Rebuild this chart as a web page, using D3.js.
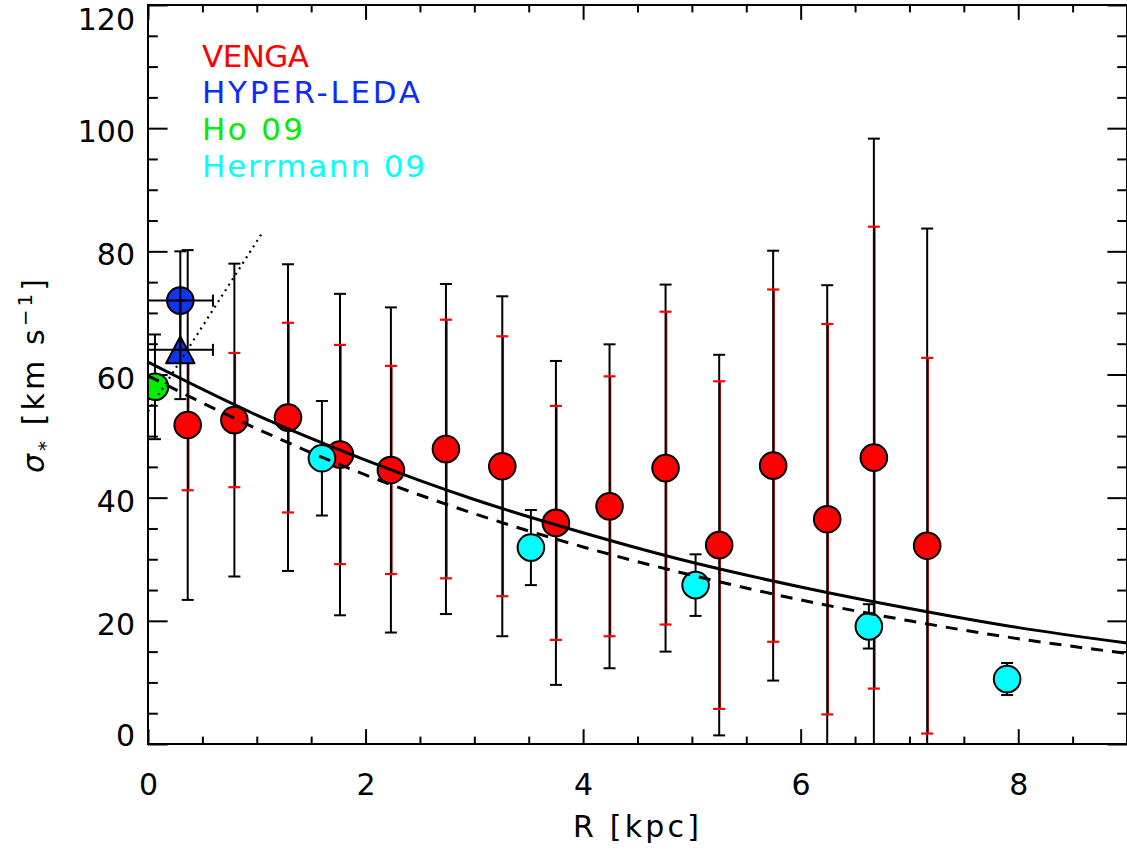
<!DOCTYPE html>
<html>
<head>
<meta charset="utf-8">
<script src="https://cdn.jsdelivr.net/npm/d3@7"></script>
<style>
  html, body { margin: 0; padding: 0; background: #fff; }
  svg { display: block; }
  text { font-family: "DejaVu Sans", sans-serif; }
</style>
</head>
<body>
<svg id="chart" width="1127" height="851"></svg>
<script>
// ---------------- data ----------------
// VENGA
const rVenga = [0.365, 0.794, 1.287, 1.765, 2.233, 2.739, 3.257, 3.750, 4.243, 4.758, 5.251, 5.747, 6.244, 6.673, 7.163];
const sigVenga = [51.8, 52.6, 53.0, 47.0, 44.5, 47.9, 45.1, 35.9, 38.6, 44.8, 32.3, 45.2, 36.5, 46.5, 32.2];
const errTotVenga = [28.4, 25.4, 24.9, 26.1, 26.4, 26.8, 27.6, 26.3, 26.3, 29.8, 30.9, 34.9, 38.0, 51.8, 51.5];
const errRedVenga = [10.6, 10.9, 15.4, 17.8, 16.9, 21.0, 21.1, 19.0, 21.1, 25.4, 26.6, 28.6, 31.7, 37.5, 30.5];
// HYPER-LEDA
const rLeda = [0.297, 0.297];
const sigLeda = [72.0, 64.0];
const rErrLeda = [0.3, 0.3];
const sigErrLeda = [8.0, 8.0];
const symLeda = ["circle", "triangle"];
// Ho 09
const rHo = [0.064];
const sigHo = [58.0];
const errHo = [8.5];
// Herrmann 09
const rHerr = [1.599, 3.520, 5.034, 6.627, 7.898];
const sigHerr = [46.4, 31.9, 25.8, 19.1, 10.55];
const errHerr = [9.3, 6.1, 5.0, 3.6, 2.6];
// model curves
const rModel = [0, 1, 2, 3, 4, 5, 6, 7, 8, 9];
const sigSolid = [62.0, 53.4, 46.1, 39.7, 34.3, 29.5, 25.5, 22.0, 18.9, 16.4];
const sigDashed = [59.8, 51.2, 43.7, 37.4, 32.0, 27.4, 23.4, 20.0, 17.1, 14.7];
const rDotted = [0, 1.05];
const sigDotted = [54.0, 83.0];
// axes / labels
const xMajor = [0, 2, 4, 6, 8];
const xMinor = [0.5, 1, 1.5, 2.5, 3, 3.5, 4.5, 5, 5.5, 6.5, 7, 7.5, 8.5];
const yMajor = [0, 20, 40, 60, 80, 100, 120];
const yMinor = d3.range(5, 120, 5).filter(v => v % 20 !== 0);
const legendLabels = ["VENGA", "HYPER-LEDA", "Ho 09", "Herrmann 09"];
const legendColors = ["#ff0000", "#0a2cff", "#00ee00", "#00ffff"];
const legendWidths = [107, 218, 101, 223];

// ---------------- layout ----------------
const L = 148, R = 1127, T = 5, B = 744;
const x = d3.scaleLinear().domain([0, 9]).range([L, R]);
const y = d3.scaleLinear().domain([0, 120]).range([B, T]);
const svg = d3.select("#chart");

svg.append("defs").append("clipPath").attr("id", "plotclip")
  .append("rect").attr("x", L).attr("y", T).attr("width", R - L).attr("height", B - T);

const tickLenX = 14.8, tickLenY = 19.6;

// axes
function ticksOnly(axis) {
  return g => { g.call(axis); g.select(".domain").remove(); g.selectAll("line").attr("stroke", "#000").attr("stroke-width", 2); };
}
const gx = svg.append("g").attr("transform", `translate(0,${B})`)
  .call(ticksOnly(d3.axisBottom(x).tickValues(xMajor).tickSize(-tickLenX).tickFormat(d3.format("d"))));
gx.selectAll("text").attr("y", 51).attr("dy", null).attr("font-size", 30).attr("fill", "#000")
  .attr("font-family", "DejaVu Sans");
svg.append("g").attr("transform", `translate(0,${B})`)
  .call(ticksOnly(d3.axisBottom(x).tickValues(xMinor).tickSize(-tickLenX / 2).tickFormat("")));
svg.append("g").attr("transform", `translate(0,${T})`)
  .call(ticksOnly(d3.axisTop(x).tickValues(xMajor).tickSize(-tickLenX).tickFormat("")));
svg.append("g").attr("transform", `translate(0,${T})`)
  .call(ticksOnly(d3.axisTop(x).tickValues(xMinor).tickSize(-tickLenX / 2).tickFormat("")));

const gy = svg.append("g").attr("transform", `translate(${L},0)`)
  .call(ticksOnly(d3.axisLeft(y).tickValues(yMajor).tickSize(-tickLenY).tickFormat(d3.format("d"))));
gy.selectAll("text")
  .attr("x", -13).attr("dy", null)
  .attr("y", d => Math.min(Math.max(y(d) + 13.5, 29.3), 745) - y(d))
  .attr("font-size", 30).attr("fill", "#000").attr("font-family", "DejaVu Sans");
svg.append("g").attr("transform", `translate(${L},0)`)
  .call(ticksOnly(d3.axisLeft(y).tickValues(yMinor).tickSize(-tickLenY / 2).tickFormat("")));
svg.append("g").attr("transform", `translate(${R},0)`)
  .call(ticksOnly(d3.axisRight(y).tickValues(yMajor).tickSize(-tickLenY).tickFormat("")));
svg.append("g").attr("transform", `translate(${R},0)`)
  .call(ticksOnly(d3.axisRight(y).tickValues(yMinor).tickSize(-tickLenY / 2).tickFormat("")));

// axis titles
svg.append("text").attr("x", 636).attr("y", 837).attr("text-anchor", "middle")
  .attr("font-size", 30).attr("textLength", 126).attr("lengthAdjust", "spacing")
  .text("R [kpc]");

const yt = svg.append("text").attr("transform", "translate(44,376) rotate(-90)")
  .attr("text-anchor", "middle").attr("font-size", 30)
  .attr("textLength", 194).attr("lengthAdjust", "spacing");
yt.append("tspan").attr("font-style", "italic").text("σ");
yt.append("tspan").attr("font-size", 20).attr("dy", 8).text("*");
yt.append("tspan").attr("dy", -8).text("  [km s");
yt.append("tspan").attr("font-size", 20).attr("dy", -12).text("−1");
yt.append("tspan").attr("dy", 12).text("]");

// data layer
const plot = svg.append("g").attr("clip-path", "url(#plotclip)");
const capW = 6;

function vbar(g, xv, lo, hi, color, width, caps) {
  g.append("line").attr("x1", xv).attr("x2", xv).attr("y1", y(lo)).attr("y2", y(hi))
    .attr("stroke", color).attr("stroke-width", width);
  if (caps) {
    [lo, hi].forEach(v => g.append("line").attr("x1", xv - capW).attr("x2", xv + capW)
      .attr("y1", y(v)).attr("y2", y(v)).attr("stroke", color).attr("stroke-width", 2));
  }
}
function hbar(g, yv, lo, hi) {
  g.append("line").attr("x1", x(lo)).attr("x2", x(hi)).attr("y1", yv).attr("y2", yv)
    .attr("stroke", "#000").attr("stroke-width", 2);
  [lo, hi].forEach(v => g.append("line").attr("x1", x(v)).attr("x2", x(v))
    .attr("y1", yv - capW).attr("y2", yv + capW).attr("stroke", "#000").attr("stroke-width", 2));
}
const rad = 13.3;
function circ(g, cx, cy, fill) {
  g.append("circle").attr("cx", cx).attr("cy", cy).attr("r", rad)
    .attr("fill", fill).attr("stroke", "#000").attr("stroke-width", 2);
}

// VENGA error bars
const gV = plot.append("g");
rVenga.forEach((r, i) => {
  const cx = x(r), s = sigVenga[i];
  gV.append("line").attr("x1", cx + 1).attr("x2", cx + 1)
    .attr("y1", y(s - errRedVenga[i])).attr("y2", y(s + errRedVenga[i]))
    .attr("stroke", "#c00000").attr("stroke-width", 1.5);
  vbar(gV, cx, s - errTotVenga[i], s + errTotVenga[i], "#000", 2, true);
  [s - errRedVenga[i], s + errRedVenga[i]].forEach(v => gV.append("line")
    .attr("x1", cx - capW).attr("x2", cx + capW).attr("y1", y(v)).attr("y2", y(v))
    .attr("stroke", "#ff0000").attr("stroke-width", 2.2));
});
rVenga.forEach((r, i) => circ(gV, x(r), y(sigVenga[i]), "#ff0000"));

// Ho 09
const gH = plot.append("g");
rHo.forEach((r, i) => vbar(gH, x(r), sigHo[i] - errHo[i], sigHo[i] + errHo[i], "#000", 2, true));
rHo.forEach((r, i) => circ(gH, x(r), y(sigHo[i]), "#00ee00"));

// Herrmann 09
const gC = plot.append("g");
rHerr.forEach((r, i) => vbar(gC, x(r), sigHerr[i] - errHerr[i], sigHerr[i] + errHerr[i], "#000", 2, true));
rHerr.forEach((r, i) => circ(gC, x(r), y(sigHerr[i]), "#00ffff"));

// HYPER-LEDA
const gL = plot.append("g");
rLeda.forEach((r, i) => {
  const cx = x(r), cy = y(sigLeda[i]);
  if (symLeda[i] === "circle") circ(gL, cx, cy, "#0f35f2");
  else {
    const h = 13.3, w = 14.2;
    gL.append("path").attr("d", `M${cx},${cy - h}L${cx + w},${cy + h}L${cx - w},${cy + h}Z`)
      .attr("fill", "#0f35f2").attr("stroke", "#000").attr("stroke-width", 2).attr("stroke-linejoin", "round");
  }
});
rLeda.forEach((r, i) => {
  const cx = x(r), cy = y(sigLeda[i]);
  vbar(gL, cx, sigLeda[i] - sigErrLeda[i], sigLeda[i] + sigErrLeda[i], "#000", 2, true);
  hbar(gL, cy, r - rErrLeda[i], r + rErrLeda[i]);
});

// model lines
const lineGen = (xs, ys) => d3.line().x((d, i) => x(xs[i])).y((d, i) => y(ys[i])).curve(d3.curveMonotoneX)(xs);
plot.append("path").attr("d", lineGen(rModel, sigSolid)).attr("fill", "none")
  .attr("stroke", "#000").attr("stroke-width", 3);
plot.append("path").attr("d", lineGen(rModel, sigDashed)).attr("fill", "none")
  .attr("stroke", "#000").attr("stroke-width", 3).attr("stroke-dasharray", "12,9");
plot.append("path").attr("d", lineGen(rDotted, sigDotted)).attr("fill", "none")
  .attr("stroke", "#000").attr("stroke-width", 2.2).attr("stroke-dasharray", "2,4.5");

// frame
svg.append("rect").attr("x", L).attr("y", T).attr("width", R - L).attr("height", B - T)
  .attr("fill", "none").attr("stroke", "#000").attr("stroke-width", 2);

// legend
const baseY = [66.7, 103.3, 140, 176.7];
legendLabels.forEach((t, i) => {
  svg.append("text").attr("x", 202).attr("y", baseY[i]).attr("font-size", 31)
    .attr("fill", legendColors[i]).attr("textLength", legendWidths[i]).attr("lengthAdjust", "spacing")
    .text(t);
});
</script>
</body>
</html>
